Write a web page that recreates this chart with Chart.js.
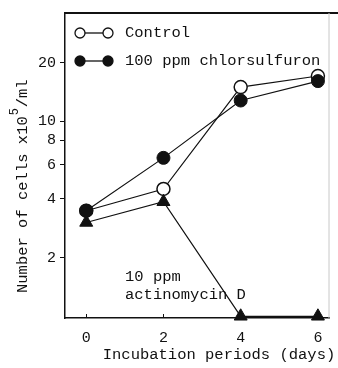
<!DOCTYPE html>
<html>
<head>
<meta charset="utf-8">
<script src="https://cdn.jsdelivr.net/npm/chart.js@4"></script>
<style>
  html, body { margin: 0; padding: 0; background: #fff; }
  canvas { display: block; }
</style>
</head>
<body>
<canvas id="cellChart" width="338" height="368"></canvas>
<script>
// values (cells x10^5/ml)
const days = [0, 2, 4, 6];
const control = [3.48, 4.5, 15.0, 17.1];
const chlorsulfuron = [3.48, 6.5, 12.8, 16.1];
const actinomycin = [3.03, 3.87, 1, 1];   // drops to the axis floor
const yTicks = [2, 4, 6, 8, 10, 20];
const xTicks = [0, 2, 4, 6];

const INK = '#111';
const MONO = "'Liberation Mono', 'DejaVu Sans Mono', monospace";
Chart.defaults.font.family = MONO;
Chart.defaults.color = INK;

const toPoints = vals => days.map((d, i) => ({ x: d, y: vals[i] }));

// frame, inner x ticks, titles, legend and the note
const decorations = {
    id: 'decorations',
    afterDraw(chart) {
        const { ctx, chartArea: a, scales: { x } } = chart;
        ctx.save();

        ctx.strokeStyle = INK;
        ctx.lineWidth = 2;
        ctx.beginPath();
        ctx.moveTo(a.left, a.top);
        ctx.lineTo(chart.width, a.top);
        ctx.stroke();

        ctx.strokeStyle = '#c8c8c8';
        ctx.lineWidth = 1;
        ctx.beginPath();
        ctx.moveTo(a.right - 0.5, a.top);
        ctx.lineTo(a.right - 0.5, a.bottom);
        ctx.stroke();

        ctx.strokeStyle = INK;
        ctx.beginPath();
        xTicks.forEach(v => {
            const px = Math.round(x.getPixelForValue(v)) + 0.5;
            ctx.moveTo(px, a.bottom);
            ctx.lineTo(px, a.bottom - 4);
        });
        ctx.stroke();

        ctx.fillStyle = INK;
        ctx.font = '15.5px ' + MONO;
        ctx.textBaseline = 'middle';

        // x title
        ctx.textAlign = 'center';
        ctx.fillText('Incubation periods (days)', 219, 355);

        // legend
        ctx.textAlign = 'left';
        ctx.fillText('Control', 125, 33);
        ctx.fillText('100 ppm chlorsulfuron', 125, 61);
        [[33, '#fff'], [61, INK]].forEach(([ly, fill]) => {
            ctx.lineWidth = 1.3;
            ctx.beginPath();
            ctx.moveTo(80, ly);
            ctx.lineTo(108, ly);
            ctx.stroke();
            [80, 108].forEach(cx => {
                ctx.beginPath();
                ctx.arc(cx, ly, 5, 0, Math.PI * 2);
                ctx.fillStyle = fill;
                ctx.fill();
                ctx.stroke();
            });
        });

        // note
        ctx.fillStyle = INK;
        ctx.fillText('10 ppm', 125, 277);
        ctx.fillText('actinomycin D', 125, 295);

        // y title with superscript
        ctx.translate(23, 293);
        ctx.rotate(-Math.PI / 2);
        const main = 'Number of cells x10';
        ctx.fillText(main, 0, 0);
        const w = ctx.measureText(main).width;
        ctx.font = '12px ' + MONO;
        ctx.fillText('5', w + 1, -8);
        ctx.font = '15.5px ' + MONO;
        ctx.fillText('/ml', w + 9, 0);

        ctx.restore();
    }
};

new Chart(document.getElementById('cellChart').getContext('2d'), {
    type: 'line',
    data: {
        datasets: [
            {
                label: 'Control',
                data: toPoints(control),
                order: 3,
                borderColor: INK,
                borderWidth: 1.2,
                pointStyle: 'circle',
                pointRadius: 6.5,
                pointBackgroundColor: '#fff',
                pointBorderColor: INK,
                pointBorderWidth: 1.5
            },
            {
                label: '10 ppm actinomycin D',
                data: toPoints(actinomycin),
                order: 2,
                clip: 12,
                borderColor: INK,
                borderWidth: 1.2,
                pointStyle: 'triangle',
                pointRadius: 7.5,
                pointBackgroundColor: INK,
                pointBorderColor: INK,
                pointBorderWidth: 1
            },
            {
                label: '100 ppm chlorsulfuron',
                data: toPoints(chlorsulfuron),
                order: 1,
                borderColor: INK,
                borderWidth: 1.2,
                pointStyle: 'circle',
                pointRadius: 6.5,
                pointBackgroundColor: INK,
                pointBorderColor: INK,
                pointBorderWidth: 1
            }
        ]
    },
    options: {
        responsive: false,
        animation: false,
        events: [],
        layout: { padding: { top: 13, right: 4, left: 0, bottom: 0 } },
        plugins: {
            legend: { display: false },
            tooltip: { enabled: false }
        },
        scales: {
            x: {
                type: 'linear',
                min: -0.55,
                max: 6.3,
                afterBuildTicks: s => { s.ticks = xTicks.map(v => ({ value: v })); },
                afterFit: s => { s.height = 50; },
                grid: { display: false, drawTicks: false },
                border: { display: true, color: INK, width: 1.5 },
                ticks: { padding: 11, font: { size: 15 }, color: INK }
            },
            y: {
                type: 'logarithmic',
                min: 0.98,
                max: 36,
                afterBuildTicks: s => { s.ticks = yTicks.map(v => ({ value: v })); },
                afterFit: s => { s.width = 65; },
                grid: { drawOnChartArea: false, drawTicks: true, tickLength: 5, color: INK },
                border: { display: true, color: INK, width: 1.5 },
                ticks: {
                    autoSkip: false,
                    padding: 4,
                    font: { size: 15 },
                    color: INK,
                    callback: v => String(v)
                }
            }
        }
    },
    plugins: [decorations]
});
</script>
</body>
</html>
